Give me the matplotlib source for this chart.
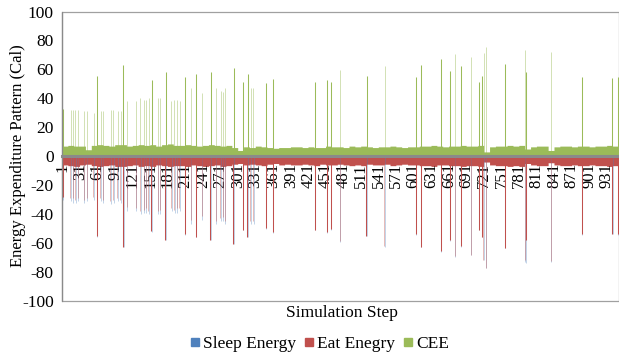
import numpy as np
import matplotlib
matplotlib.use("Agg")
import matplotlib.pyplot as plt
from matplotlib.patches import Patch, Rectangle

plt.rcParams['font.family'] = ['Liberation Serif', 'DejaVu Serif']
plt.rcParams['axes.unicode_minus'] = False

# ---- data ----
n_steps = 951
series_names = ["Sleep Energy", "Eat Enegry", "CEE"]
x_tick_steps = list(range(1, n_steps + 1, 30))

# baseline level of each 10-step block
cee_level = [7, 7.5, 7, 7, 4.5, 7.5, 8, 7.5, 7, 8,
             8, 7, 7.5, 8, 7.5, 8, 7, 8, 8.5, 7.5,
             7.5, 8, 7.5, 7, 7.5, 8, 7.5, 7, 7.5, 6,
             4, 6.5, 6, 7, 6.5, 6, 5.5, 6, 6, 6.5,
             6.5, 6, 6.5, 6, 6, 7, 6.5, 6.5, 6, 7,
             6.5, 7, 6.5, 6, 6.5, 6.5, 7, 6.5, 6, 6.5,
             6.5, 7, 7, 7.5, 7, 6.5, 7, 7, 7.5, 7,
             7, 7.5, 3, 6.5, 7, 7, 7.5, 7, 7.5, 5,
             6.5, 7, 7, 4, 6.5, 7, 7, 6.5, 7, 7,
             6.5, 7, 7, 7.5, 7, 7]
eat_level = [-6, -6.5, -7, -6, -5.5, -6.5, -7, -6.5, -6, -7,
             -7, -6.5, -6, -7, -6.5, -7, -6, -6.5, -7, -6.5,
             -6.5, -7, -6, -6.5, -7, -6.5, -6, -7, -6.5, -5.5,
             -5, -6, -5.5, -6, -6.5, -5.5, -5, -6, -5.5, -6,
             -6, -5.5, -6, -6.5, -5.5, -6, -6, -5.5, -6, -6.5,
             -6, -6.5, -5.5, -6, -6, -5.5, -6.5, -6, -5.5, -6,
             -6, -6.5, -6.5, -7, -6, -6, -6.5, -6.5, -7, -6.5,
             -6.5, -7, -4, -6, -6.5, -6.5, -7, -6.5, -7, -5,
             -6, -6.5, -6.5, -4.5, -6, -6.5, -6.5, -6, -6.5, -6.5,
             -6, -6.5, -6.5, -7, -6.5, -6.5]

# tall spikes
spike_step = [2, 60, 105, 153, 177, 210, 229, 254, 293, 309, 317, 349, 361,
              432, 453, 459, 520, 605, 613, 647, 663, 681, 712, 717, 757,
              792, 888, 940, 949]
spike_cee = [32.5, 55.7, 63.3, 52.8, 58.5, 55, 56.7, 58.5, 60.8, 51.6, 56.7,
             50.5, 53.2, 51.2, 52.8, 51.2, 55.5, 54.6, 63.3, 67, 59, 62.4,
             51.6, 55.7, 63.8, 58.5, 54.6, 53.9, 55]
spike_eat = [-28, -55.3, -62.6, -51.8, -57.6, -54, -55.7, -57.6, -60.3, -50.7,
             -55.7, -49.5, -52.5, -50.7, -52.5, -50, -54.8, -54, -62.6, -65.6,
             -58, -62, -50.7, -55.7, -63.3, -57.6, -54, -53.4, -54]
spike_sleep = [-30, -55.5, -63, -52, -58, -54.5, -56, -58, -60.5, -51, -56,
               -50, -53, -51, -53, -51, -55, -54.5, -63, -66, -58.5, -62.5,
               -51, -56, -63.5, -73.6, -54.5, -54, -54.5]

# thin (faint) spikes
faint_step = [15, 19, 23, 27, 38, 43, 54, 66, 70, 83, 88, 95, 100, 111, 127,
              134, 140, 144, 148, 164, 168, 187, 192, 197, 201, 221, 239, 263,
              271, 275, 279, 322, 327, 475, 551, 671, 699, 720, 724, 791, 835]
faint_cee = [32, 32, 32, 32, 31, 31, 30, 31, 31, 32, 32, 31, 31, 38, 38, 40,
             39, 39, 40, 40, 40, 38, 39, 39, 38, 47, 43.6, 47, 45, 44.7, 47,
             47, 47, 59.7, 62.4, 70.5, 68.4, 71.6, 75.3, 73.4, 72.3]
faint_eat = [-29, -29, -30, -29, -30, -29, -28, -29, -30, -31, -30, -29, -30,
             -35, -36, -38, -37, -36, -38, -38, -37, -36, -37, -36, -36, -44,
             -41, -45, -43, -42, -45, -45, -45, -58.7, -62, -69, -68, -71.4,
             -77, -72, -72.5]
faint_sleep = [-31, -32, -32, -31, -32, -31, -30, -31, -32, -33, -32, -31, -32,
               -38, -38, -40, -39, -39, -40, -40, -40, -38, -39, -39, -38, -47,
               -44, -47, -45, -45, -47, -47, -47, -59, -62.5, -69.5, -68.5,
               -72, -77.5, -73, -73]

blue = "#4F81BD"
red = "#C0504D"
green = "#9BBB59"

steps = np.arange(1, n_steps + 1)
cee = np.repeat(cee_level, 10)[:n_steps]
eat = np.repeat(eat_level, 10)[:n_steps]

fig = plt.figure(figsize=(6.19, 3.56), dpi=100)
ax = fig.add_axes([62 / 619, 1 - 301 / 356, 557 / 619, 289.5 / 356])

# baseline fills
ax.fill_between(steps, 0, cee, step='mid', color=green, lw=0)
ax.fill_between(steps, 0, eat, step='mid', color=red, lw=0)

# faint spikes
fs = np.array(faint_step)
ax.vlines(fs + 0.6, 0, faint_sleep, color=blue, lw=0.7, alpha=0.35)
ax.vlines(fs, 0, faint_eat, color=red, lw=0.7, alpha=0.4)
ax.vlines(fs + 0.4, 0, faint_cee, color=green, lw=0.7, alpha=0.45)

# tall spikes
ss = np.array(spike_step)
ax.vlines(ss + 0.6, 0, spike_sleep, color=blue, lw=0.6, alpha=0.4)
ax.vlines(ss, 0, spike_eat, color=red, lw=0.75)
ax.vlines(ss + 0.4, 0, spike_cee, color=green, lw=0.75)

ax.set_xlim(0.5, n_steps + 0.5)
ax.set_ylim(-100, 100)
ax.set_yticks(range(-100, 101, 20))
ax.tick_params(axis='y', length=0, pad=6, labelsize=12.5)

# category axis crosses at zero
ax.spines['bottom'].set_position(('data', 0))
ax.spines['bottom'].set_color('#8a8a8a')
ax.spines['bottom'].set_linewidth(2.2)
ax.spines['bottom'].set_zorder(3)
for s in ['top', 'right']:
    ax.spines[s].set_visible(False)
ax.spines['left'].set_color('#8a8a8a')
ax.spines['left'].set_linewidth(0.9)
ax.add_patch(Rectangle((0, 0), 1, 1, transform=ax.transAxes, fill=False,
                       edgecolor='#a0a0a0', lw=0.9, clip_on=False))

ax.set_xticks(x_tick_steps)
ax.set_xticklabels([str(s) for s in x_tick_steps], rotation=90, fontsize=12)
ax.tick_params(axis='x', length=0, pad=5)

fig.text(18 / 619, 1 - 156 / 356, "Energy Expenditure Pattern (Cal)",
         rotation=90, ha='center', va='center', fontsize=12)
fig.text(342 / 619, 1 - 313 / 356, "Simulation Step",
         ha='center', va='center', fontsize=12.5)

handles = [Patch(color=c) for c in [blue, red, green]]
fig.legend(handles, series_names, loc='center', ncol=3,
           bbox_to_anchor=(320 / 619, 1 - 344 / 356), frameon=False,
           fontsize=12.5, handlelength=0.45, handleheight=0.35,
           handletextpad=0.25, columnspacing=0.5, borderpad=0)

plt.savefig("out.png", dpi=100)
